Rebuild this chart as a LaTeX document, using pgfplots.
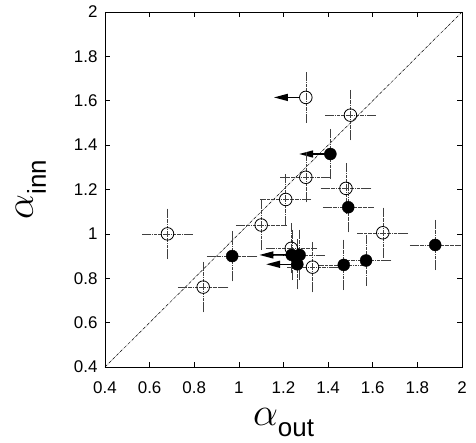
\documentclass[border=0pt]{standalone}
\usepackage{fontspec}
\setmainfont{Liberation Sans}
\usepackage{pgfplots}
\usepackage{pgfplotstable}
\pgfplotsset{compat=1.18}
\usetikzlibrary{arrows.meta}

\pgfplotstableread{
x     y      ex   ey
0.68  1.00   0.10 0.10
0.84  0.76   0.10 0.10
1.10  1.04   0.10 0.10
1.21  1.155  0.10 0.10
1.30  1.255  0.10 0.10
1.50  1.535  0.10 0.10
1.48  1.205  0.10 0.10
1.235 0.935  0.10 0.10
1.33  0.85   0.10 0.10
1.645 1.005  0.10 0.10
1.30  1.615  0.00 0.10
}\opendata

\pgfplotstableread{
x     y      ex   ey
0.97  0.90   0.10 0.10
1.49  1.12   0.10 0.10
1.47  0.86   0.10 0.10
1.57  0.88   0.10 0.10
1.88  0.95   0.10 0.10
1.272 0.905  0.10 0.10
1.41  1.36   0.00 0.10
1.237 0.905  0.00 0.10
1.262 0.863  0.00 0.10
}\filleddata

\pgfplotstableread{
x     y      u      v
1.272 1.615  -0.115 0
1.41  1.36   -0.14  0
1.237 0.905  -0.145 0
1.262 0.863  -0.14  0
}\arrowdata

\newcommand{\bigalpha}{\scalebox{1.6}{\fontsize{25}{25}\selectfont$\alpha$}}

\begin{document}
\begin{tikzpicture}
\begin{axis}[
  scale only axis, width=357bp, height=355bp,
  xmin=0.4, xmax=2, ymin=0.4, ymax=2,
  xtick={0.4,0.6,0.8,1.0,1.2,1.4,1.6,1.8,2.0},
  ytick={0.4,0.6,0.8,1.0,1.2,1.4,1.6,1.8,2.0},
  xticklabels={0.4,0.6,0.8,1,1.2,1.4,1.6,1.8,2},
  yticklabels={0.4,0.6,0.8,1,1.2,1.4,1.6,1.8,2},
  tick align=inside, major tick length=5bp,
  ticklabel style={font=\fontsize{17}{17}\selectfont},
  xticklabel style={yshift=-11bp},
  yticklabel style={xshift=-4bp},
  axis line style={line width=0.9bp},
  tick style={line width=0.6bp, black},
  clip=false,
]
\addplot[densely dashdotted, line width=0.5bp, black] coordinates {(0.4,0.4) (2,2)};

\addplot[quiver={u=\thisrow{u}, v=\thisrow{v}}, -{Triangle[length=14bp, width=7bp]}, line width=1.4bp, black]
  table[x=x, y=y] {\arrowdata};

\addplot[only marks, mark=o, mark size=6.3bp, mark options={line width=0.8bp, black},
  error bars/.cd, x dir=both, x explicit, y dir=both, y explicit,
  error bar style={densely dashdotted, line width=0.5bp, black!75},
  error mark options={solid, line width=0.5bp, black!75, mark size=3bp}]
  table[x=x, y=y, x error=ex, y error=ey] {\opendata};

\addplot[only marks, mark=*, mark size=6bp, mark options={black, fill=black},
  error bars/.cd, x dir=both, x explicit, y dir=both, y explicit,
  error bar style={densely dashdotted, line width=0.5bp, black!75},
  error mark options={solid, line width=0.5bp, black!75, mark size=3bp}]
  table[x=x, y=y, x error=ex, y error=ey] {\filleddata};

\node[anchor=base, inner sep=0] at ([yshift=-58bp]axis description cs:0.5,0)
  {\bigalpha\raisebox{-11bp}{\fontsize{26}{26}\selectfont out}};
\node[anchor=base, rotate=90, inner sep=0] at ([xshift=-72bp]axis description cs:0,0.5)
  {\bigalpha\raisebox{-13bp}{\fontsize{26}{26}\selectfont inn}};
\end{axis}
\pgfresetboundingbox
\useasboundingbox ([shift={(-105bp,-76bp)}]current axis.south west) rectangle ([shift={(14bp,12bp)}]current axis.north east);
\end{tikzpicture}
\end{document}
